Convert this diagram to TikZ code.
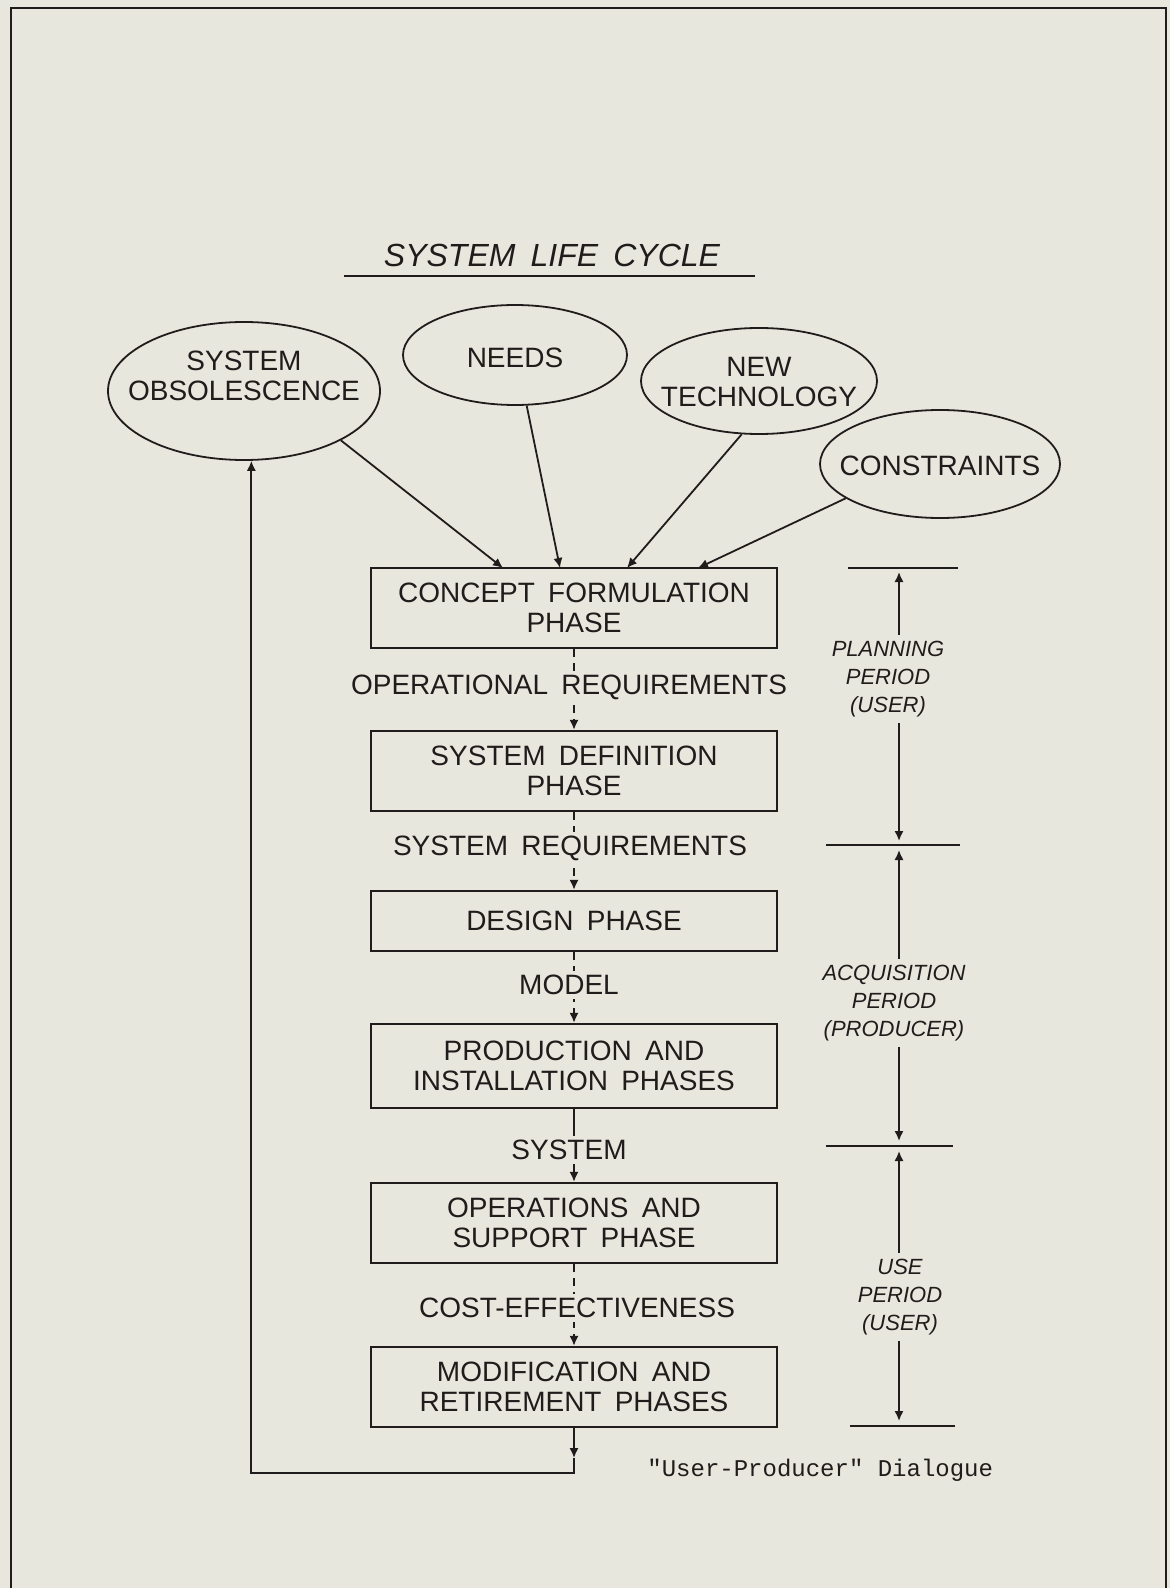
\documentclass[tikz,border=0pt]{standalone}
\usepackage{fontspec}
\setmainfont{Liberation Sans}[WordSpace=1.7]
\newfontfamily\dotfont{Liberation Mono}
\usetikzlibrary{arrows.meta,shapes.geometric}
\definecolor{paper}{RGB}{232,231,221}
\definecolor{inkc}{RGB}{32,28,28}
\newcommand\phasefont{\fontsize{14pt}{15pt}\selectfont}
\newcommand\perfont{\fontsize{11pt}{14pt}\selectfont\itshape}
\newcommand\ttlfont{\fontsize{16pt}{18pt}\selectfont\itshape}
\newcommand\dlgfont{\dotfont\fontsize{12pt}{14pt}\selectfont}

\begin{document}
\begin{tikzpicture}[x=0.5pt,y=-0.5pt,color=inkc,
  phase/.style={draw=inkc, line width=1.2pt, minimum width=203pt, align=center,
    inner sep=0pt, font=\phasefont},
  oval/.style={ellipse, draw=inkc, line width=0.9pt, inner sep=0pt},
  ovaltext/.style={align=center, font=\phasefont, inner sep=0pt},
  flow/.style={draw=inkc, line width=0.9pt, -{Latex[length=5pt,width=4.6pt]}},
  dflow/.style={flow, dash pattern=on 4pt off 3pt},
  flowlabel/.style={fill=paper, inner sep=2pt, font=\phasefont},
  period/.style={font=\perfont, align=center, inner sep=3pt},
  tick/.style={draw=inkc, line width=1.3pt}]

% paper and frame
\fill[paper] (0,0) rectangle (1170,1588);
\useasboundingbox (0,0) rectangle (1170,1588);
\draw[line width=1.2pt] (11,1588) -- (11,8) -- (1166,8) -- (1166,1588);

% title
\node[font=\ttlfont, anchor=base, inner sep=0pt] (title) at (552,267) {SYSTEM LIFE CYCLE};
\draw[line width=1.3pt] (344,276) -- (755,276);

% inputs
\node[oval, minimum width=136pt, minimum height=69pt] (obs) at (244,391) {};
\node[ovaltext] (obstxt) at (244,376) {SYSTEM\\OBSOLESCENCE};
\node[oval, minimum width=112pt, minimum height=50pt] (needs) at (515,355) {};
\node[ovaltext] (needstxt) at (515,358) {NEEDS};
\node[oval, minimum width=118pt, minimum height=53pt] (tech) at (759,381) {};
\node[ovaltext] (techtxt) at (759,382) {NEW\\TECHNOLOGY};
\node[oval, minimum width=120pt, minimum height=54pt] (cons) at (940,464) {};
\node[ovaltext] (constxt) at (940,466) {CONSTRAINTS};

% phases
\node[phase, minimum height=40pt] (concept) at (574,608) {CONCEPT FORMULATION\\PHASE};
\node[phase, minimum height=40pt] (sysdef) at (574,771) {SYSTEM DEFINITION\\PHASE};
\node[phase, minimum height=30pt] (design) at (574,921) {DESIGN PHASE};
\node[phase, minimum height=42pt] (prod) at (574,1066) {PRODUCTION AND\\INSTALLATION PHASES};
\node[phase, minimum height=40pt] (ops) at (574,1223) {OPERATIONS AND\\SUPPORT PHASE};
\node[phase, minimum height=40pt] (mod) at (574,1387) {MODIFICATION AND\\RETIREMENT PHASES};

% inputs into the concept phase
\coordinate (in1) at (503,568);
\coordinate (in2) at (560,568);
\coordinate (in3) at (627,568);
\coordinate (in4) at (698,568);
\draw[flow] (obs.-27) -- (in1);
\draw[flow] (needs.-77) -- (in2);
\draw[flow] (tech.-108) -- (in3);
\draw[flow] (cons.-160) -- (in4);

% phase to phase
\draw[dflow] (concept) -- (sysdef);
\draw[dflow] (sysdef) -- (design);
\draw[dflow] (design) -- (prod);
\draw[flow] (prod) -- (ops);
\draw[dflow] (ops) -- (mod);

\node[flowlabel] (oreq) at (569,687) {OPERATIONAL REQUIREMENTS};
\node[flowlabel] (sreq) at (570,848) {SYSTEM REQUIREMENTS};
\node[flowlabel] (mdl) at (569,985) {MODEL};
\node[flowlabel] (sysl) at (569,1150) {SYSTEM};
\node[flowlabel] (ceff) at (577,1308) {COST-EFFECTIVENESS};

% feedback loop back to obsolescence
\coordinate (ldrop) at (574,1458);
\coordinate (lcorner) at (574,1473);
\draw[flow] (mod.south) -- (ldrop);
\draw[flow] (ldrop) -- (lcorner) -| (obs.-84);

\node[font=\dlgfont, anchor=west, inner sep=0pt] (dlg) at (647,1470) {"User-Producer" Dialogue};

% periods
\node[period] (plan) at (888,679) {PLANNING\\PERIOD\\(USER)};
\node[period] (acq) at (894,1003) {ACQUISITION\\PERIOD\\(PRODUCER)};
\node[period] (usep) at (900,1297) {USE\\PERIOD\\(USER)};

\coordinate (pa) at (899,572);
\coordinate (pb) at (899,841);
\coordinate (aa) at (899,850);
\coordinate (ab) at (899,1141);
\coordinate (ua) at (899,1151);
\coordinate (ub) at (899,1421);
\draw[flow] (plan.north -| pa) -- (pa);
\draw[flow] (plan.south -| pb) -- (pb);
\draw[flow] (acq.north -| aa) -- (aa);
\draw[flow] (acq.south -| ab) -- (ab);
\draw[flow] (usep.north -| ua) -- (ua);
\draw[flow] (usep.south -| ub) -- (ub);

\draw[tick] (848,568) -- (958,568);
\draw[tick] (826,845) -- (960,845);
\draw[tick] (826,1146) -- (953,1146);
\draw[tick] (850,1426) -- (955,1426);
\end{tikzpicture}
\end{document}
